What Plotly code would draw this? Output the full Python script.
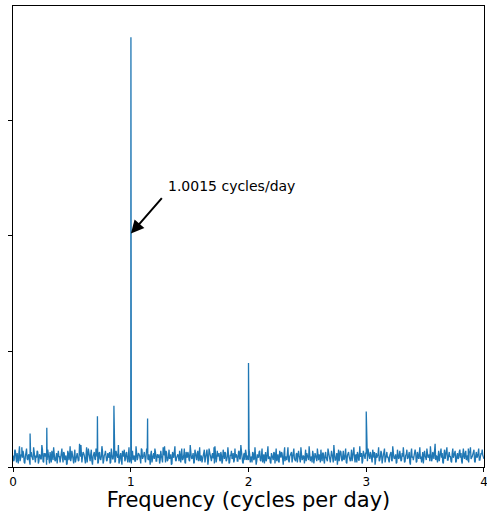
import numpy as np
import plotly.graph_objects as go

# Noise floor of the periodogram sampled every 0.01 cycles/day (0..4)
noise = [
0.10,0.06,0.14,0.04,0.09,0.12,0.05,0.11,0.08,0.11,0.03,0.13,0.07,0.10,0.05,0.09,0.09,0.06,0.12,0.04,
0.08,0.13,0.05,0.10,0.07,0.15,0.04,0.09,0.12,0.06,0.11,0.03,0.08,0.14,0.06,0.10,0.05,0.12,0.07,0.09,
0.04,0.11,0.08,0.13,0.06,0.10,0.03,0.12,0.09,0.05,0.14,0.07,0.10,0.04,0.11,0.08,0.06,0.13,0.05,0.09,
0.12,0.06,0.10,0.04,0.16,0.08,0.11,0.05,0.09,0.13,0.06,0.10,0.03,0.12,0.07,0.09,0.14,0.05,0.11,0.08,
0.06,0.10,0.13,0.04,0.09,0.07,0.12,0.05,0.11,0.08,0.03,0.10,0.06,0.14,0.09,0.05,0.12,0.07,0.10,0.04,
0.09,0.12,0.06,0.10,0.05,0.13,0.08,0.11,0.04,0.16,0.07,0.10,0.05,0.09,0.12,0.06,0.08,0.11,0.04,0.10,
0.07,0.13,0.05,0.09,0.11,0.06,0.10,0.04,0.12,0.08,0.14,0.05,0.09,0.07,0.11,0.03,0.10,0.13,0.06,0.08,
0.11,0.05,0.09,0.12,0.06,0.10,0.04,0.13,0.08,0.11,0.05,0.09,0.07,0.12,0.04,0.10,0.06,0.14,0.08,0.05,
0.10,0.07,0.12,0.04,0.09,0.11,0.06,0.13,0.05,0.10,0.08,0.03,0.11,0.07,0.09,0.12,0.05,0.10,0.06,0.08,
0.13,0.05,0.09,0.11,0.04,0.10,0.07,0.12,0.06,0.08,0.10,0.05,0.14,0.07,0.09,0.04,0.11,0.06,0.12,0.08,
0.06,0.11,0.08,0.04,0.12,0.07,0.10,0.05,0.09,0.13,0.06,0.10,0.04,0.11,0.08,0.05,0.12,0.07,0.09,0.03,
0.10,0.06,0.12,0.08,0.05,0.11,0.04,0.09,0.13,0.07,0.10,0.05,0.08,0.12,0.06,0.09,0.11,0.04,0.10,0.07,
0.05,0.12,0.08,0.10,0.04,0.11,0.07,0.09,0.13,0.05,0.10,0.06,0.12,0.08,0.04,0.11,0.07,0.10,0.05,0.09,
0.11,0.04,0.09,0.12,0.06,0.10,0.08,0.05,0.13,0.07,0.09,0.11,0.04,0.10,0.06,0.12,0.08,0.05,0.14,0.07,
0.09,0.06,0.11,0.04,0.10,0.13,0.07,0.09,0.05,0.12,0.08,0.10,0.04,0.11,0.06,0.09,0.12,0.05,0.10,0.07,
0.12,0.05,0.09,0.07,0.11,0.04,0.10,0.13,0.06,0.08,0.11,0.05,0.09,0.12,0.07,0.10,0.04,0.11,0.08,0.06,
0.10,0.13,0.05,0.09,0.07,0.11,0.04,0.12,0.08,0.10,0.06,0.09,0.13,0.05,0.11,0.07,0.10,0.04,0.12,0.08,
0.06,0.10,0.12,0.05,0.09,0.11,0.07,0.04,0.13,0.08,0.10,0.06,0.12,0.09,0.05,0.11,0.07,0.10,0.14,0.06,
0.09,0.12,0.05,0.10,0.08,0.04,0.11,0.07,0.13,0.06,0.10,0.09,0.05,0.12,0.08,0.11,0.04,0.10,0.07,0.13,
0.08,0.05,0.11,0.09,0.12,0.06,0.10,0.04,0.13,0.07,0.09,0.11,0.05,0.10,0.08,0.12,0.06,0.09,0.11,0.10,
0.07,
]
noise_freq = [i / 100 for i in range(len(noise))]

# Noise floor at the half-way frequencies (0.005, 0.015, ... 3.995)
noise_mid = [
0.05,0.15,0.08,0.12,0.03,0.18,0.07,0.10,0.14,0.04,0.09,0.16,0.06,0.11,0.02,0.13,0.08,0.17,0.05,0.10,
0.14,0.03,0.11,0.07,0.19,0.05,0.12,0.09,0.02,0.15,0.08,0.13,0.04,0.10,0.17,0.06,0.11,0.03,0.14,0.09,
0.07,0.16,0.04,0.12,0.09,0.02,0.14,0.06,0.18,0.08,0.11,0.03,0.15,0.07,0.12,0.05,0.20,0.09,0.04,0.13,
0.10,0.03,0.17,0.08,0.12,0.05,0.15,0.02,0.11,0.07,0.16,0.09,0.04,0.13,0.06,0.18,0.03,0.10,0.14,0.05,
0.12,0.08,0.03,0.16,0.07,0.11,0.04,0.14,0.09,0.19,0.05,0.12,0.02,0.10,0.15,0.07,0.13,0.04,0.17,0.08,
0.03,0.14,0.09,0.05,0.18,0.06,0.12,0.10,0.03,0.15,0.08,0.13,0.04,0.16,0.07,0.11,0.02,0.14,0.09,0.12,
0.16,0.05,0.11,0.08,0.03,0.14,0.07,0.17,0.10,0.04,0.12,0.06,0.15,0.09,0.02,0.13,0.08,0.18,0.05,0.11,
0.09,0.14,0.04,0.12,0.07,0.16,0.03,0.10,0.13,0.06,0.19,0.08,0.11,0.03,0.15,0.07,0.12,0.05,0.17,0.09,
0.04,0.11,0.15,0.07,0.13,0.02,0.16,0.09,0.05,0.12,0.08,0.18,0.04,0.14,0.10,0.06,0.13,0.03,0.15,0.07,
0.12,0.06,0.17,0.03,0.10,0.14,0.08,0.04,0.16,0.11,0.05,0.13,0.07,0.19,0.09,0.03,0.12,0.15,0.06,0.10,
0.15,0.04,0.09,0.13,0.06,0.17,0.02,0.11,0.08,0.14,0.05,0.16,0.10,0.03,0.13,0.07,0.18,0.09,0.04,0.12,
0.07,0.13,0.03,0.16,0.10,0.05,0.14,0.08,0.12,0.02,0.15,0.09,0.06,0.17,0.04,0.11,0.13,0.07,0.16,0.05,
0.11,0.04,0.14,0.08,0.17,0.06,0.10,0.03,0.15,0.12,0.07,0.18,0.05,0.09,0.14,0.03,0.12,0.08,0.16,0.06,
0.09,0.15,0.05,0.12,0.03,0.13,0.07,0.16,0.10,0.04,0.14,0.08,0.19,0.06,0.11,0.02,0.15,0.09,0.13,0.05,
0.14,0.07,0.16,0.03,0.12,0.09,0.05,0.15,0.08,0.17,0.04,0.11,0.13,0.06,0.18,0.10,0.03,0.14,0.07,0.12,
0.05,0.16,0.09,0.13,0.04,0.15,0.08,0.02,0.12,0.10,0.17,0.06,0.14,0.03,0.11,0.16,0.07,0.13,0.09,0.04,
0.13,0.06,0.18,0.08,0.11,0.03,0.15,0.07,0.14,0.05,0.12,0.17,0.04,0.10,0.15,0.08,0.13,0.02,0.16,0.09,
0.11,0.15,0.04,0.13,0.07,0.17,0.09,0.12,0.03,0.14,0.06,0.16,0.08,0.11,0.18,0.05,0.13,0.07,0.20,0.10,
0.04,0.14,0.08,0.16,0.12,0.03,0.15,0.10,0.17,0.06,0.13,0.09,0.04,0.16,0.11,0.14,0.05,0.12,0.08,0.15,
0.12,0.03,0.16,0.07,0.14,0.10,0.05,0.13,0.17,0.08,0.11,0.15,0.04,0.13,0.09,0.16,0.06,0.12,0.15,0.07,
]
noise_mid_freq = [(i + 0.5) / 100 for i in range(len(noise_mid))]

# Distinct peaks (frequency in cycles/day, power in y-tick units)
peak_freq = [0.075, 0.145, 0.287, 0.577, 0.717, 0.857, 1.0015, 1.143, 1.287, 1.433,
             1.647, 1.707, 2.0, 2.307, 2.447, 3.0, 3.547, 3.867]
peak_power = [0.17, 0.29, 0.34, 0.19, 0.44, 0.53, 3.72, 0.42, 0.18, 0.16,
              0.15, 0.17, 0.90, 0.17, 0.15, 0.48, 0.15, 0.16]

pts = sorted(list(zip(noise_freq, noise)) + list(zip(noise_mid_freq, noise_mid))
             + list(zip(peak_freq, peak_power)))
freq = [p[0] for p in pts]
power = [p[1] for p in pts]

ann_text = "1.0015 cycles/day"
ann_x, ann_y = 1.0015, 2.02

fig = go.Figure()
fig.add_trace(go.Scatter(x=freq, y=power, mode="lines",
                         line=dict(color="#1f77b4", width=1.3), showlegend=False))

fig.add_annotation(x=ann_x, y=ann_y, ax=1.275, ay=2.34, xref="x", yref="y",
                   axref="x", ayref="y", text="", showarrow=True,
                   arrowhead=2, arrowsize=1.3, arrowwidth=2, arrowcolor="black")
fig.add_annotation(x=1.3, y=2.43, xref="x", yref="y", text=ann_text,
                   showarrow=False, xanchor="left", yanchor="middle",
                   font=dict(family="DejaVu Sans", size=14, color="black"))

fig.update_layout(
    width=487, height=512,
    margin=dict(l=13, r=3, t=6, b=45, autoexpand=False),
    paper_bgcolor="white", plot_bgcolor="white",
    font=dict(family="DejaVu Sans", color="black"),
    xaxis=dict(range=[-0.0001, 4.0001], tickvals=[0, 1, 2, 3, 4], ticktext=["0", "1", "2", "3", "4"],
               ticks="outside", ticklen=4, tickwidth=1, tickcolor="black",
               ticklabeloverflow="allow", automargin=False,
               showline=True, linecolor="black", linewidth=1, mirror=True,
               showgrid=False, zeroline=False, tickfont=dict(size=12),
               title=dict(text="Frequency (cycles per day)", font=dict(size=21), standoff=5)),
    yaxis=dict(range=[0, 3.99], tickvals=[0, 1, 2, 3], showticklabels=False,
               ticks="outside", ticklen=4, tickwidth=1, tickcolor="black",
               showline=True, linecolor="black", linewidth=1, mirror=True,
               showgrid=False, zeroline=False, automargin=False),
)

fig.write_html("out.html")
